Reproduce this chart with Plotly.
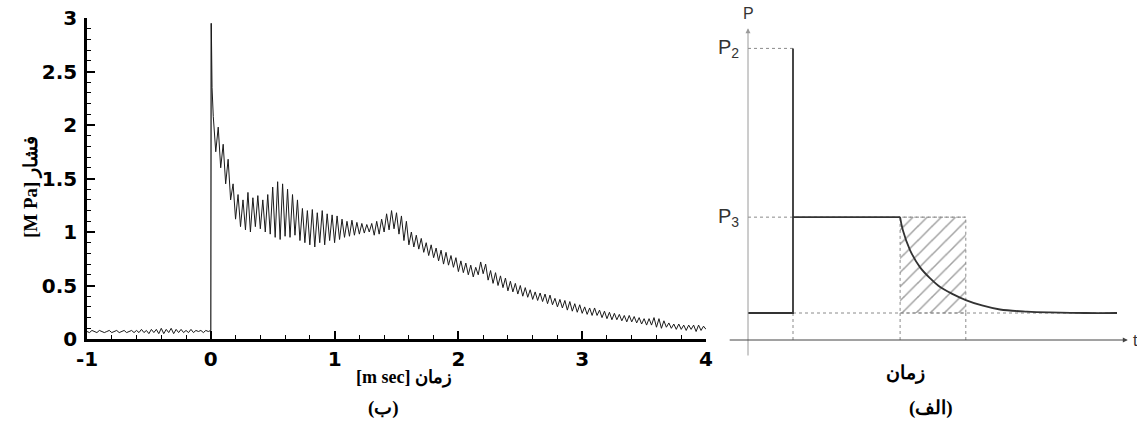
import plotly.graph_objects as go

# ---------------- Panel (ب): measured pressure signal ----------------
t_step = 0.02
p_pre = [0.07, 0.06, 0.08, 0.07, 0.06, 0.08, 0.07, 0.06, 0.07, 0.08,
         0.06, 0.07, 0.08, 0.06, 0.07, 0.08, 0.06, 0.07, 0.08, 0.06,
         0.08, 0.06, 0.09, 0.06, 0.08, 0.05, 0.09, 0.06, 0.09, 0.05,
         0.10, 0.05, 0.09, 0.06, 0.10, 0.05, 0.09, 0.06, 0.09, 0.06,
         0.08, 0.06, 0.09, 0.06, 0.08, 0.07, 0.08, 0.06, 0.08, 0.07, 0.08]
spike_t = [0.0, 0.004, 0.01]
spike_p = [0.08, 2.95, 2.35]
p_post = [2.08, 1.75, 1.98, 1.60, 1.82, 1.45, 1.68, 1.30, 1.45, 1.12,
          1.35, 1.05, 1.30, 1.02, 1.37, 1.00, 1.32, 1.05, 1.34, 1.03,
          1.30, 1.00, 1.35, 0.98, 1.42, 0.95, 1.47, 0.93, 1.45, 0.96,
          1.40, 0.95, 1.35, 0.97, 1.30, 0.92, 1.22, 0.90, 1.20, 0.88,
          1.21, 0.86, 1.18, 0.90, 1.20, 0.88, 1.17, 0.92, 1.16, 0.90,
          1.15, 0.93, 1.12, 0.95, 1.10, 0.96, 1.11, 0.97, 1.09, 0.98,
          1.08, 0.99, 1.07, 1.00, 1.08, 0.97, 1.10, 0.98, 1.12, 1.00,
          1.17, 1.02, 1.20, 1.03, 1.18, 0.98, 1.15, 0.92, 1.10, 0.88,
          1.00, 0.86, 0.97, 0.84, 0.94, 0.81, 0.90, 0.78, 0.88, 0.76,
          0.85, 0.73, 0.83, 0.70, 0.81, 0.69, 0.78, 0.67, 0.76, 0.63,
          0.73, 0.62, 0.71, 0.60, 0.69, 0.58, 0.67, 0.60, 0.72, 0.61,
          0.70, 0.55, 0.64, 0.52, 0.62, 0.50, 0.59, 0.48, 0.57, 0.45,
          0.54, 0.44, 0.52, 0.42, 0.50, 0.40, 0.48, 0.39, 0.46, 0.37,
          0.44, 0.36, 0.43, 0.35, 0.42, 0.33, 0.41, 0.32, 0.38, 0.30,
          0.37, 0.29, 0.36, 0.27, 0.35, 0.26, 0.33, 0.25, 0.32, 0.24,
          0.30, 0.23, 0.29, 0.22, 0.29, 0.22, 0.27, 0.20, 0.26, 0.19,
          0.25, 0.18, 0.24, 0.18, 0.23, 0.17, 0.22, 0.16, 0.22, 0.16,
          0.21, 0.15, 0.20, 0.14, 0.19, 0.13, 0.19, 0.13, 0.20, 0.11,
          0.19, 0.10, 0.17, 0.11, 0.15, 0.10, 0.14, 0.09, 0.14, 0.09,
          0.13, 0.08, 0.13, 0.09, 0.13, 0.07, 0.13, 0.08, 0.12, 0.09]

t_pre = [round(-1 + t_step * i, 3) for i in range(len(p_pre))]
t_post = [round(t_step * (i + 1), 3) for i in range(len(p_post))]

# ---------------- Panel (الف): idealised schematic ----------------
p_base, p3, p2 = 1.0, 4.55, 10.8
t1, t2, t3 = 1.0, 3.38, 4.84
t_end = 8.2
decay_t = [3.38, 3.44, 3.60, 3.82, 4.05, 4.27, 4.55, 4.84, 5.2, 5.6, 6.2, 6.7, 7.5, 8.2]
decay_p = [4.55, 4.07, 3.33, 2.70, 2.28, 1.96, 1.70, 1.48, 1.28, 1.13, 1.05, 1.02, 1.0, 1.0]

fig = go.Figure()

# left panel traces
fig.add_trace(go.Scatter(x=[0, 0], y=[0.07, 2.95], mode="lines",
                         line=dict(color="#9a9a9a", width=1), xaxis="x", yaxis="y",
                         showlegend=False, hoverinfo="skip"))
fig.add_trace(go.Scatter(x=t_pre + spike_t[1:] + t_post, y=p_pre + spike_p[1:] + p_post,
                         mode="lines", line=dict(color="#1a1a1a", width=1),
                         xaxis="x", yaxis="y", showlegend=False))

dot = dict(color="#8a8a8a", width=1, dash="dot")
# hatched rectangle
fig.add_trace(go.Scatter(x=[t2, t3, t3, t2, t2], y=[p_base, p_base, p3, p3, p_base],
                         mode="lines", fill="toself", line=dot,
                         fillcolor="rgba(0,0,0,0)",
                         fillpattern=dict(shape="/", fgcolor="#444444", bgcolor="white",
                                          size=10, solidity=0.15),
                         xaxis="x2", yaxis="y2", showlegend=False, hoverinfo="skip"))
# dotted guide lines
guides = [([0, t1], [p2, p2]), ([0, t3], [p3, p3]), ([t1, t_end], [p_base, p_base]),
          ([t1, t1], [0, p_base]), ([t2, t2], [0, p_base]), ([t3, t3], [0, p_base])]
for gx, gy in guides:
    fig.add_trace(go.Scatter(x=gx, y=gy, mode="lines", line=dot, xaxis="x2", yaxis="y2",
                             showlegend=False, hoverinfo="skip"))
# solid pulse
fig.add_trace(go.Scatter(x=[0, t1, t1, t1, t2], y=[p_base, p_base, p2, p3, p3], mode="lines",
                         line=dict(color="#333333", width=1.8), xaxis="x2", yaxis="y2",
                         showlegend=False, hoverinfo="skip"))
fig.add_trace(go.Scatter(x=decay_t, y=decay_p, mode="lines", line_shape="spline",
                         line=dict(color="#333333", width=1.8), xaxis="x2", yaxis="y2",
                         showlegend=False, hoverinfo="skip"))

W, H = 1137, 434
tickf = dict(family="DejaVu Sans", size=20, color="black", weight="bold")
fig.update_layout(
    width=W, height=H, margin=dict(l=0, r=0, t=0, b=0, autoexpand=False),
    paper_bgcolor="white", plot_bgcolor="white",
    xaxis=dict(domain=[87 / W, 706 / W], range=[-1, 4], showgrid=False, zeroline=False,
               showline=True, linecolor="black", linewidth=2.5, automargin=False,
               ticks="inside", ticklen=8, tickwidth=2, tickcolor="black",
               tickvals=[-1, 0, 1, 2, 3, 4], ticktext=["-1", "0", "1", "2", "3", "4"],
               minor=dict(ticks="inside", ticklen=4, tickwidth=1, tickcolor="black", dtick=0.2),
               tickfont=tickf, ticklabelstandoff=0, anchor="y"),
    yaxis=dict(domain=[1 - 339 / H, 1 - 18 / H], range=[0, 3], showgrid=False, zeroline=False,
               showline=True, linecolor="black", linewidth=2.5, automargin=False,
               ticks="inside", ticklen=8, tickwidth=2, tickcolor="black",
               tickvals=[0, 0.5, 1, 1.5, 2, 2.5, 3],
               ticktext=["0", "0.5", "1", "1.5", "2", "2.5", "3"],
               minor=dict(ticks="inside", ticklen=4, tickwidth=1, tickcolor="black", dtick=0.1),
               tickfont=tickf, ticklabelstandoff=3, anchor="x"),
    xaxis2=dict(domain=[720 / W, 1.0], range=[-28 / 45, 389 / 45], visible=False,
                anchor="y2", automargin=False),
    yaxis2=dict(domain=[0, 1], range=[(340 - 434) / 27, 340 / 27], visible=False,
                anchor="x2", automargin=False),
)

ser = dict(family="Liberation Serif, DejaVu Serif", size=19, color="black", weight="bold")
ser_s = dict(family="Liberation Serif, DejaVu Serif", size=18, color="black", weight="bold")
lab = dict(family="Liberation Sans, Arial", size=20, color="#333333")
annotations = [
    dict(text="[M Pa] فشار", x=18 / W, y=1 - 187 / H, xref="paper", yref="paper",
         textangle=-90, showarrow=False, font=ser),
    dict(text="[m sec] زمان", x=404 / W, y=1 - 390 / H, xref="paper", yref="paper",
         showarrow=False, font=ser_s),
    dict(text="(ب)", x=383 / W, y=1 - 421 / H, xref="paper", yref="paper",
         showarrow=False, font=ser),
    dict(text="زمان", x=927 / W, y=1 - 386 / H, xref="paper", yref="paper",
         showarrow=False, font=ser),
    dict(text="(الف)", x=955 / W, y=1 - 421 / H, xref="paper", yref="paper",
         showarrow=False, font=ser),
    # schematic axes with arrows
    dict(x=0, y=11.55, ax=0, ay=-0.63, xref="x2", yref="y2", axref="x2", ayref="y2",
         text="", showarrow=True, arrowhead=2, arrowsize=1, arrowwidth=1, arrowcolor="#9a9a9a"),
    dict(x=8.44, y=0, ax=-0.44, ay=0, xref="x2", yref="y2", axref="x2", ayref="y2",
         text="", showarrow=True, arrowhead=2, arrowsize=1, arrowwidth=1, arrowcolor="#444444"),
    dict(text="P", x=0, y=12.1, xref="x2", yref="y2", showarrow=False,
         font=dict(family="Liberation Sans, Arial", size=16, color="#333333")),
    dict(text="t", x=8.5, y=0, xref="x2", yref="y2", xanchor="left", showarrow=False,
         font=dict(family="Liberation Sans, Arial", size=16, color="#333333")),
    dict(text="P<sub>2</sub>", x=-0.15, y=p2, xref="x2", yref="y2", xanchor="right",
         showarrow=False, font=lab),
    dict(text="P<sub>3</sub>", x=-0.15, y=p3, xref="x2", yref="y2", xanchor="right",
         showarrow=False, font=lab),
]
fig.update_layout(annotations=annotations)

fig.write_html("out.html", config={"displayModeBar": False},
               post_script="document.body.style.margin='0';document.body.style.overflow='hidden';")
